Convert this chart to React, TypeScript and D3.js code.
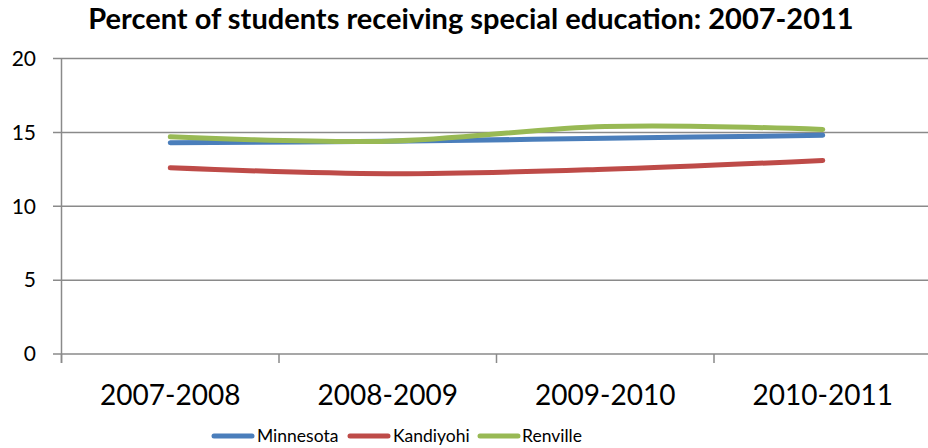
import React from "react";
import * as d3 from "d3";

const years = ["2007-2008", "2008-2009", "2009-2010", "2010-2011"];
const minnesota = [14.3, 14.4, 14.6, 14.8];
const kandiyohi = [12.6, 12.2, 12.5, 13.1];
const renville = [14.7, 14.4, 15.4, 15.2];
const yTicks = [0, 5, 10, 15, 20];

const series = [
  { name: "Minnesota", values: minnesota, color: "#4A7EBB" },
  { name: "Kandiyohi", values: kandiyohi, color: "#BE4B48" },
  { name: "Renville", values: renville, color: "#98B954" },
];

const W = 928;
const H = 448;
const left = 61.5;
const right = 931.5;
const top = 58.5;
const bottom = 354;
const font = "Lato, 'Open Sans', sans-serif";

export default function App() {
  const x = d3.scaleBand<string>().domain(years).range([left, right]).padding(0);
  const y = d3.scaleLinear().domain([0, 20]).range([bottom, top]);
  const cx = (d: string) => (x(d) as number) + x.bandwidth() / 2;

  const line = (vals: number[]) =>
    d3
      .line<number>()
      .x((_, i) => cx(years[i]))
      .y((v) => y(v))
      .curve(d3.curveCatmullRom.alpha(0))(vals) as string;

  const tickXs = [...years.map((d) => x(d) as number), right];

  const legendItems = [
    { x: 214, textX: 257 },
    { x: 350, textX: 393 },
    { x: 480, textX: 522 },
  ];

  return (
    <svg
      width={W}
      height={H}
      style={{ position: "absolute", left: 0, top: 0, background: "#fff" }}
      fontFamily={font}
    >
      <rect width={W} height={H} fill="#fff" />
      <text x={471} y={29} textAnchor="middle" fontWeight="bold" fontSize={29} fill="#000">
        Percent of students receiving special education: 2007-2011
      </text>

      {/* horizontal gridlines and y-axis labels */}
      {yTicks.map((t) => (
        <g key={t}>
          <line x1={53} x2={W} y1={y(t)} y2={y(t)} stroke="#8a8a8a" strokeWidth={1.5} />
          <text
            x={36}
            y={y(t)}
            dy="0.35em"
            textAnchor="end"
            fontSize={21}
            fill="#000"
          >
            {t}
          </text>
        </g>
      ))}

      {/* y axis */}
      <line x1={left} x2={left} y1={top} y2={bottom + 9} stroke="#8a8a8a" strokeWidth={1.5} />

      {/* x-axis ticks */}
      {tickXs.map((tx, i) => (
        <line key={i} x1={tx} x2={tx} y1={bottom} y2={bottom + 9} stroke="#8a8a8a" strokeWidth={1.5} />
      ))}
      {years.map((d) => (
        <text key={d} x={cx(d)} y={405} textAnchor="middle" fontSize={28} fill="#000">
          {d}
        </text>
      ))}

      {/* series lines */}
      {series.map((s) => (
        <path
          key={s.name}
          d={line(s.values)}
          fill="none"
          stroke={s.color}
          strokeWidth={5}
          strokeLinecap="round"
          strokeLinejoin="round"
        />
      ))}

      {/* legend */}
      {series.map((s, i) => (
        <g key={s.name}>
          <line
            x1={legendItems[i].x}
            x2={legendItems[i].x + 38}
            y1={436}
            y2={436}
            stroke={s.color}
            strokeWidth={5}
            strokeLinecap="round"
          />
          <text x={legendItems[i].textX} y={436} dy="0.35em" fontSize={17.5} fill="#000">
            {s.name}
          </text>
        </g>
      ))}
    </svg>
  );
}
